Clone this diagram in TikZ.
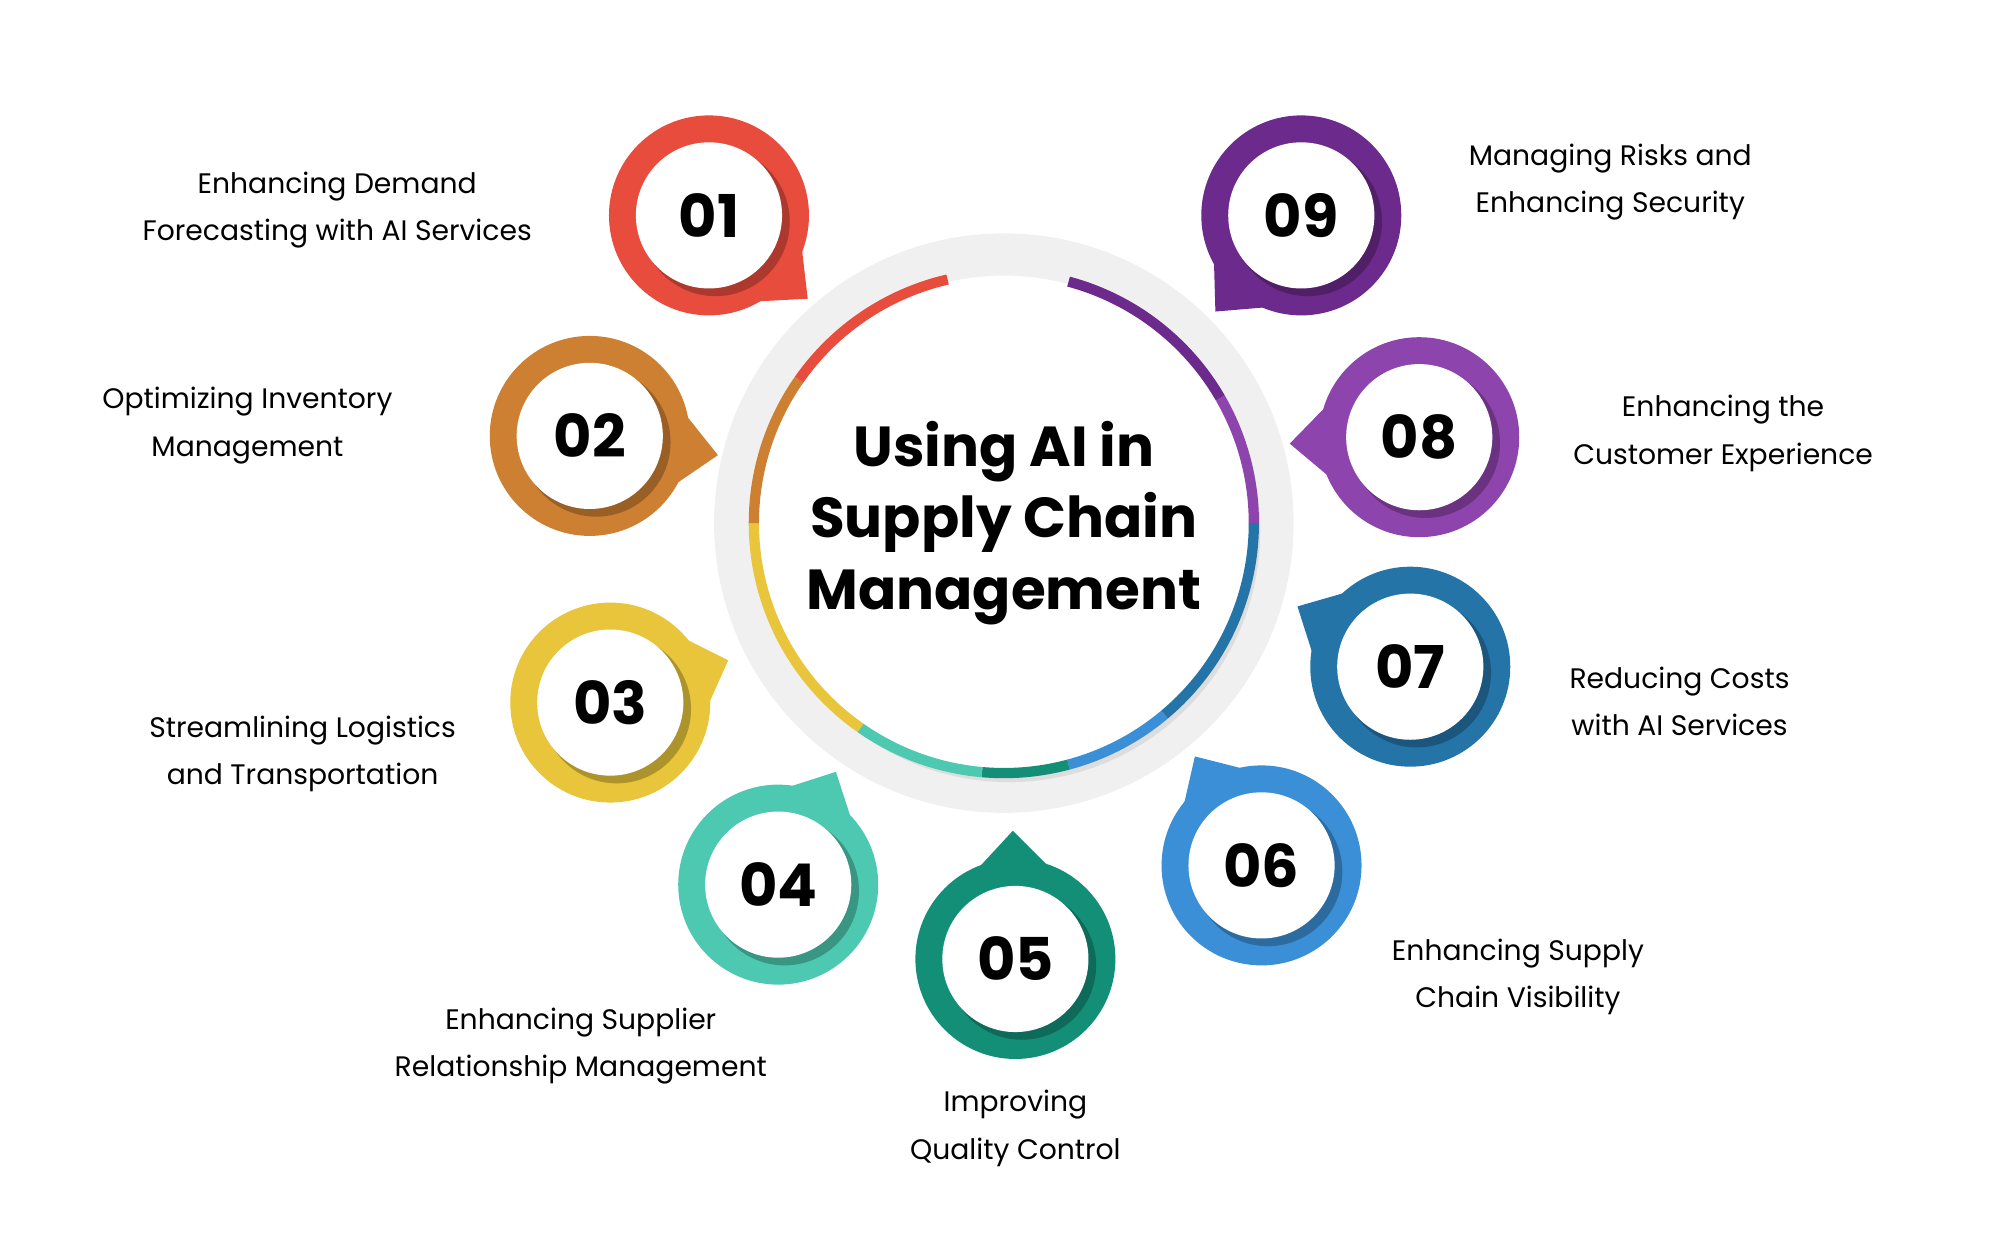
\documentclass[tikz,border=0pt]{standalone}
\usepackage{fontspec}
\setmainfont{Poppins}
\usetikzlibrary{calc}
\definecolor{cRed}{HTML}{E84C3D}
\definecolor{cOrange}{HTML}{CD7F32}
\definecolor{cYellow}{HTML}{E8C53A}
\definecolor{cTeal}{HTML}{4CC9B0}
\definecolor{cGreen}{HTML}{148F77}
\definecolor{cBlue}{HTML}{3A8FD6}
\definecolor{cNavy}{HTML}{2474A8}
\definecolor{cPurple}{HTML}{8E44AD}
\definecolor{cPlum}{HTML}{6C2A8C}
\tikzset{
  label/.style={align=center,font=\fontsize{22}{37}\selectfont,inner sep=0pt},
  num/.style={font=\fontsize{46}{46}\selectfont\bfseries}
}
% badge: name, center, tip, colour, number
\newcommand{\badge}[5]{%
  \coordinate (#1) at #2;
  \coordinate (#1t) at #3;
  \fill[#4] ($(#1)!76pt!22:(#1t)$) -- (#1t) -- ($(#1)!76pt!-22:(#1t)$) -- cycle;
  \fill[#4] (#1) circle (78);
  \fill[black,opacity=0.25] ($(#1)+(5,5)$) circle (58);
  \fill[white] (#1) circle (57);
  \node[num] at (#1) {#5};
}
\begin{document}
\begin{tikzpicture}[x=1pt,y=-1pt]
\useasboundingbox (0,0) rectangle (1560,975);
% centre
\coordinate (hub) at (783,408);
\fill[gray!12] (hub) circle (226);
\fill[black,opacity=0.08] ($(hub)+(4,6)$) circle (196);
\fill[white] (hub) circle (193);
\foreach \a/\b/\c in {-75/-30/cPlum,-30/0/cPurple,0/50/cNavy,50/75/cBlue,75/95/cGreen,95/125/cTeal,125/180/cYellow,180/215/cOrange,215/257/cRed}
  \draw[\c,line width=8] ($(hub)+(\a:195)$) arc[start angle=\a,end angle=\b,radius=195];
\node[align=center,font=\fontsize{44}{56}\selectfont\bfseries] (title) at (hub) {Using AI in\\Supply Chain\\Management};
% badges
\badge{b01}{(553,168)}{(630,233)}{cRed}{01}
\badge{b02}{(460,340)}{(560,355)}{cOrange}{02}
\badge{b03}{(476,548)}{(568,515)}{cYellow}{03}
\badge{b04}{(607,690)}{(652,602)}{cTeal}{04}
\badge{b05}{(792,748)}{(790,648)}{cGreen}{05}
\badge{b06}{(984,675)}{(932,590)}{cBlue}{06}
\badge{b07}{(1100,520)}{(1012,473)}{cNavy}{07}
\badge{b08}{(1107,341)}{(1006,346)}{cPurple}{08}
\badge{b09}{(1015,168)}{(948,243)}{cPlum}{09}
% labels
\node[label] (l01) at (263,164) {Enhancing Demand\\Forecasting with AI Services};
\node[label] (l02) at (193,332) {Optimizing Inventory\\Management};
\node[label] (l03) at (236,588) {Streamlining Logistics\\and Transportation};
\node[label] (l04) at (453,816) {Enhancing Supplier\\Relationship Management};
\node[label] (l05) at (792,880) {Improving\\Quality Control};
\node[label] (l06) at (1184,762) {Enhancing Supply\\Chain Visibility};
\node[label] (l07) at (1310,547) {Reducing Costs\\with AI Services};
\node[label] (l08) at (1344,338) {Enhancing the\\Customer Experience};
\node[label] (l09) at (1256,142) {Managing Risks and\\Enhancing Security};
\end{tikzpicture}
\end{document}
